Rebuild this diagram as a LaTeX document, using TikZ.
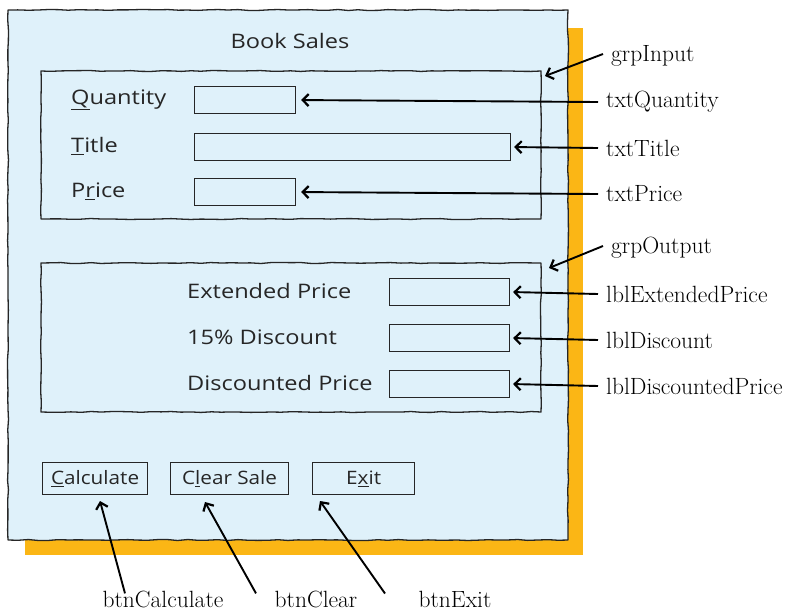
\documentclass[tikz,border=0pt]{standalone}
\usepackage{fontspec}
\setmainfont{Latin Modern Roman}
\newfontfamily\formfont[FakeStretch=1.18]{Open Sans}
\newfontfamily\btnfont[FakeStretch=1.12]{Open Sans}
\usetikzlibrary{arrows.meta,decorations.pathmorphing}
\definecolor{formbg}{HTML}{DFF1FA}
\definecolor{shadowc}{HTML}{FBB615}
\definecolor{edgec}{HTML}{262626}
\tikzset{
  wavy/.style={draw=edgec, line width=1.3pt, line join=round, decorate, decoration={random steps, segment length=10pt, amplitude=0.5pt}},
  field/.style={draw=edgec, line width=1.1pt, fill=formbg, minimum height=27pt, inner sep=0pt},
  button/.style={draw=edgec, line width=1.2pt, fill=formbg, minimum height=32pt, inner sep=0pt},
  ftext/.style={font=\formfont\fontsize{20}{22}\selectfont, text=edgec, inner sep=0pt},
  btext/.style={font=\btnfont\fontsize{18.5}{20}\selectfont, text=edgec, inner sep=0pt},
  callout/.style={font=\fontsize{23.5}{25}\selectfont, inner sep=0pt},
  pointer/.style={draw=black, line width=1.9pt, -{Straight Barb[length=6pt,width=12pt,line width=2.2pt]}}
}
\begin{document}
\begin{tikzpicture}[x=1pt,y=-1pt]
\pgfmathsetseed{7}
\useasboundingbox (0,0) rectangle (788,611);
% shadow and form
\fill[shadowc] (25,28) rectangle (583,555);
\fill[formbg] (8,10) rectangle (568,540);
\draw[wavy] (8,10) -- (568,10) -- (568,540) -- (8,540) -- cycle;
\node[ftext] (title) at (290,41) {Book Sales};
% input group
\draw[wavy] (41,71) -- (541,71) -- (541,219) -- (41,219) -- cycle;
\coordinate (gin) at (545,76);
\node[ftext, anchor=west] (lq) at (71,100) {\underline{Q}uantity};
\node[ftext, anchor=west] (lt) at (71,146) {\underline{T}itle};
\node[ftext, anchor=west] (lp) at (71,191) {P\underline{r}ice};
\node[field, minimum width=101pt, anchor=north west] (fq) at (194,86) {};
\node[field, minimum width=316pt, anchor=north west] (ft) at (194,133) {};
\node[field, minimum width=101pt, anchor=north west] (fp) at (194,178) {};
% output group
\draw[wavy] (41,263) -- (541,263) -- (541,412) -- (41,412) -- cycle;
\coordinate (gout) at (549,268);
\node[ftext, anchor=west] (le) at (187,291) {Extended Price};
\node[ftext, anchor=west] (ld) at (187,337) {15\% Discount};
\node[ftext, anchor=west] (ldp) at (187,383) {Discounted Price};
\node[field, minimum width=120pt, anchor=north west] (fe) at (389,278) {};
\node[field, minimum width=120pt, anchor=north west] (fd) at (389,324) {};
\node[field, minimum width=120pt, anchor=north west] (fdp) at (389,370) {};
% buttons
\node[button, minimum width=105pt, anchor=north west] (bc) at (42,462) {};
\node[btext] at (bc) {\underline{C}alculate};
\node[button, minimum width=118pt, anchor=north west] (bcl) at (170,462) {};
\node[btext] at (bcl) {C\underline{l}ear Sale};
\node[button, minimum width=102pt, anchor=north west] (bx) at (312,462) {};
\node[btext] at (bx) {E\underline{x}it};
% callouts right
\node[callout, anchor=west] (cgi) at (611,56) {grpInput};
\node[callout, anchor=west] (cq) at (606,102) {txtQuantity};
\node[callout, anchor=west] (ct) at (606,148) {txtTitle};
\node[callout, anchor=west] (cp) at (606,194) {txtPrice};
\node[callout, anchor=west] (cgo) at (611,248) {grpOutput};
\node[callout, anchor=west] (ce) at (606,294) {lblExtendedPrice};
\node[callout, anchor=west] (cd) at (606,340) {lblDiscount};
\node[callout, anchor=west] (cdp) at (606,386) {lblDiscountedPrice};
% callouts bottom
\node[callout, anchor=base] (cbc) at (163,607) {btnCalculate};
\node[callout, anchor=base] (cbcl) at (316,607) {btnClear};
\node[callout, anchor=base] (cbx) at (455,607) {btnExit};
% pointers
\draw[pointer] ([xshift=-8pt,yshift=2pt]cgi.west) -- (gin);
\draw[pointer] ([xshift=-8pt]cq.west) -- ([xshift=5pt]fq.east);
\draw[pointer] ([xshift=-8pt]ct.west) -- ([xshift=3pt]ft.east);
\draw[pointer] ([xshift=-8pt]cp.west) -- ([xshift=5pt]fp.east);
\draw[pointer] ([xshift=-8pt,yshift=2pt]cgo.west) -- (gout);
\draw[pointer] ([xshift=-8pt]ce.west) -- ([xshift=3pt]fe.east);
\draw[pointer] ([xshift=-8pt]cd.west) -- ([xshift=3pt]fd.east);
\draw[pointer] ([xshift=-8pt]cdp.west) -- ([xshift=3pt]fdp.east);
\draw[pointer] ([xshift=-38pt,yshift=-3pt]cbc.north) -- (100,501);
\draw[pointer] ([xshift=-60pt,yshift=-3pt]cbcl.north) -- (205,502);
\draw[pointer] ([xshift=-70pt,yshift=-3pt]cbx.north) -- (320,501);
\end{tikzpicture}
\end{document}
